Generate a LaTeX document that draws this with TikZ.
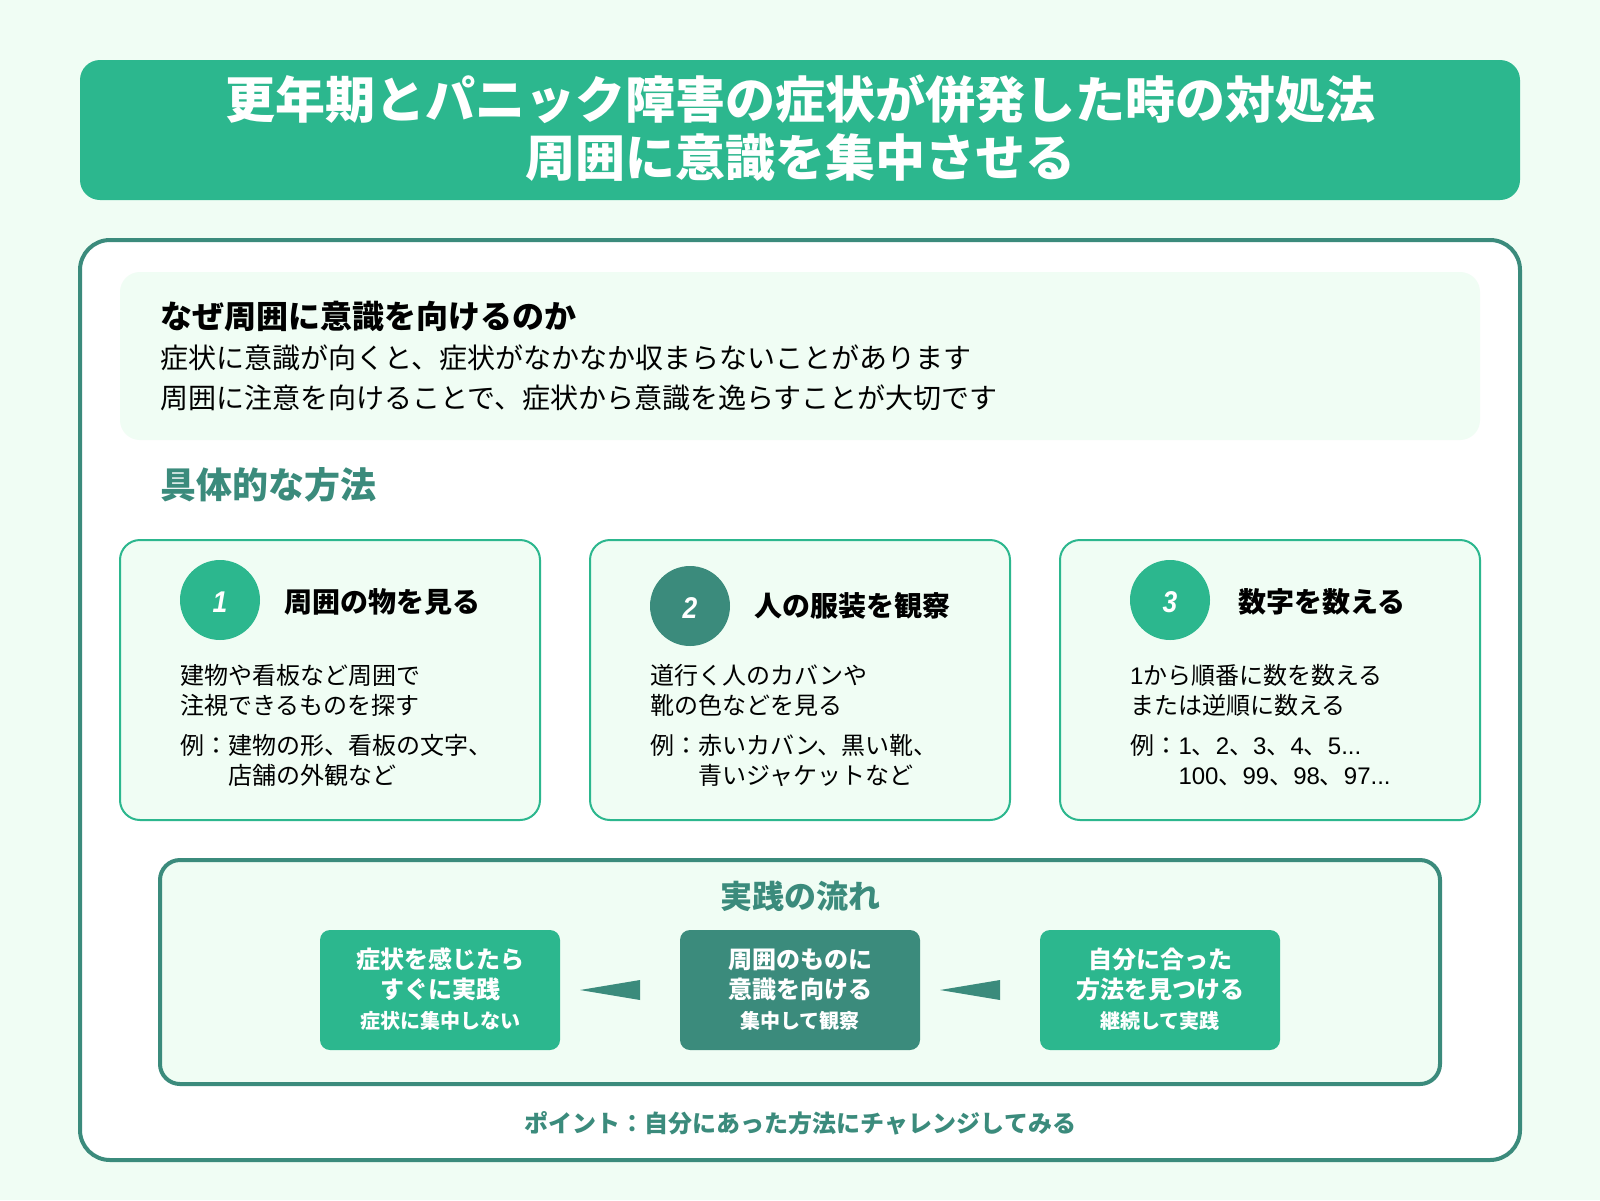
\documentclass[tikz,border=0pt]{standalone}
\usepackage{fontspec}
\setmainfont{Noto Sans CJK JP}
\newfontfamily\lat{Liberation Sans}
\usetikzlibrary{calc}
\definecolor{pagebg}{HTML}{F0FDF4}
\definecolor{mint}{HTML}{2CB78E}
\definecolor{teal}{HTML}{3B8B7C}
\newcommand{\fs}[1]{\fontsize{#1}{#1}\selectfont}
\newcommand{\digitlabel}[1]{\raisebox{-12.5pt}[0pt][0pt]{\scalebox{0.88}[1]{#1}}}
\tikzset{
  x=1pt,y=-1pt,
  tl/.style={inner sep=0,outer sep=0,anchor=base west,text=black,font=\fs{24}},
  tc/.style={inner sep=0,outer sep=0,anchor=base,font=\fs{24}\bfseries,text=white},
  head/.style={tl,font=\fs{28}\bfseries},
  sbox/.style={draw=none,inner sep=0,outer sep=0,rounded corners=10pt,minimum width=240pt,minimum height=120pt},
  card/.style={draw=mint,line width=2pt,fill=pagebg,rounded corners=20pt},
  badge/.style={circle,inner sep=0,minimum size=80pt,text=white,font=\lat\fs{30}\bfseries\itshape},
  flowtip/.style={fill=teal,draw=none},
}
\begin{document}
\begin{tikzpicture}
\useasboundingbox (0,0) rectangle (1600,1200);
\fill[pagebg] (0,0) rectangle (1600,1200);
% title
\fill[mint,rounded corners=20pt] (80,60) rectangle (1520,200);
\node[tc,font=\fs{50}\bfseries] (t1) at (800.5,118) {更年期とパニック障害の症状が併発した時の対処法};
\node[tc,font=\fs{50}\bfseries] (t2) at (800.5,176) {周囲に意識を集中させる};
% main panel
\draw[teal,line width=4pt,fill=white,rounded corners=30pt] (80,240) rectangle (1520,1160);
\fill[pagebg,rounded corners=20pt] (120,272) rectangle (1480,440);
\node[tl,font=\fs{32}\bfseries] (why) at (160,328) {なぜ周囲に意識を向けるのか};
\node[tl,font=\fs{28}] (why1) at (160.5,368) {症状に意識が向くと、症状がなかなか収まらないことがあります};
\node[tl,font=\fs{28}] (why2) at (160.5,408) {周囲に注意を向けることで、症状から意識を逸らすことが大切です};
\node[tl,font=\fs{36}\bfseries,text=teal] (method) at (160,498) {具体的な方法};
% card 1
\draw[card] (120,540) rectangle (540,820);
\node[badge,fill=mint] (n1) at (220,600) {\digitlabel{1}};
\node[head] (h1) at (284,612) {周囲の物を見る};
\node[tl] (a1) at (180,684) {建物や看板など周囲で};
\node[tl] (a2) at (180,714) {注視できるものを探す};
\node[tl] (a3) at (180,754) {例：};
\node[tl] (a4) at (228,754) {建物の形、看板の文字、};
\node[tl] (a5) at (228,784) {店舗の外観など};
% card 2
\draw[card] (590,540) rectangle (1010,820);
\node[badge,fill=teal] (n2) at (690,606) {\digitlabel{2}};
\node[head] (h2) at (754.5,616) {人の服装を観察};
\node[tl] (b1) at (650,684) {道行く人のカバンや};
\node[tl] (b2) at (650,714) {靴の色などを見る};
\node[tl] (b3) at (650,754) {例：};
\node[tl] (b4) at (698,754) {赤いカバン、黒い靴、};
\node[tl] (b5) at (698.5,784) {青いジャケットなど};
% card 3
\draw[card] (1060,540) rectangle (1480,820);
\node[badge,fill=mint] (n3) at (1170,600) {\digitlabel{3}};
\node[head] (h3) at (1238,612) {数字を数える};
\node[tl] (c1) at (1130,684) {{\lat 1}から順番に数を数える};
\node[tl] (c2) at (1130.5,714) {または逆順に数える};
\node[tl] (c3) at (1130.5,754) {例：};
\node[tl] (c4) at (1178.5,754) {{\lat 1}、{\lat 2}、{\lat 3}、{\lat 4}、{\lat 5...}};
\node[tl] (c5) at (1178.5,784) {{\lat 100}、{\lat 99}、{\lat 98}、{\lat 97...}};
% flow panel
\draw[teal,line width=4pt,fill=pagebg,rounded corners=20pt] (160,860) rectangle (1440,1084);
\node[tc,font=\fs{32}\bfseries,text=teal] (flow) at (800,908) {実践の流れ};
\node[sbox,fill=mint] (f1) at (440,990) {};
\node[sbox,fill=teal] (f2) at (800,990) {};
\node[sbox,fill=mint] (f3) at (1160,990) {};
\fill[flowtip] ($(f2.west)+(-100,0)$) -- ($(f2.west)+(-40,-10)$) -- ($(f2.west)+(-40,10)$) -- cycle;
\fill[flowtip] ($(f3.west)+(-100,0)$) -- ($(f3.west)+(-40,-10)$) -- ($(f3.west)+(-40,10)$) -- cycle;
\node[tc] (f1a) at (440,968) {症状を感じたら};
\node[tc] (f1b) at (440,998) {すぐに実践};
\node[tc,font=\fs{20}\bfseries] (f1c) at (440,1028) {症状に集中しない};
\node[tc] (f2a) at (800,968) {周囲のものに};
\node[tc] (f2b) at (800,998) {意識を向ける};
\node[tc,font=\fs{20}\bfseries] (f2c) at (800,1028) {集中して観察};
\node[tc] (f3a) at (1160,968) {自分に合った};
\node[tc] (f3b) at (1160,998) {方法を見つける};
\node[tc,font=\fs{20}\bfseries] (f3c) at (1160,1028) {継続して実践};
\node[tc,text=teal] (point) at (800.5,1132) {ポイント：自分にあった方法にチャレンジしてみる};
\end{tikzpicture}
\end{document}
